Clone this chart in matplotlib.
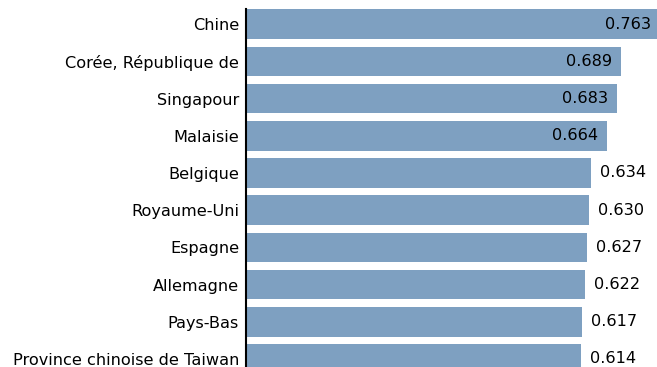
import matplotlib
matplotlib.use("Agg")
import matplotlib.pyplot as plt

plt.rcParams["font.family"] = ["DejaVu Sans"]

# Index values per economy, top to bottom
countries = [
    "Chine",
    "Corée, République de",
    "Singapour",
    "Malaisie",
    "Belgique",
    "Royaume-Uni",
    "Espagne",
    "Allemagne",
    "Pays-Bas",
    "Province chinoise de Taiwan",
]
values = [0.763, 0.689, 0.683, 0.664, 0.634, 0.630, 0.627, 0.622, 0.617, 0.614]

BAR_COLOR = "#7EA0C1"
X_MIN, X_MAX = -0.0115, 0.757
INSIDE_FROM = 0.66   # labels go inside the bar above this value
FS = 11.6

fig = plt.figure(figsize=(6.57, 3.67), dpi=100)
ax = fig.add_axes([246 / 657, 0.0, 1 - 246 / 657, (367 - 9.3) / 367])

pos = list(range(len(countries)))
ax.barh(pos, [v - X_MIN for v in values], left=X_MIN, height=0.8,
        color=BAR_COLOR, edgecolor="none", clip_on=True)

ax.set_xlim(X_MIN, X_MAX)
ax.set_ylim((367 - 24.2) / 37.2, -0.4)

for y, v in zip(pos, values):
    if v >= INSIDE_FROM:
        ax.annotate(f"{v:.3f}", (v, y), xytext=(-9, 0), textcoords="offset pixels",
                    ha="right", va="center", fontsize=FS, color="black",
                    annotation_clip=False)
    else:
        ax.annotate(f"{v:.3f}", (v, y), xytext=(9, 0), textcoords="offset pixels",
                    ha="left", va="center", fontsize=FS, color="black",
                    annotation_clip=False)

ax.set_yticks(pos)
ax.set_yticklabels(countries, fontsize=FS)
ax.tick_params(axis="y", length=0, pad=5)
ax.set_xticks([])

for side in ["top", "right", "bottom"]:
    ax.spines[side].set_visible(False)
ax.spines["left"].set_linewidth(1.5)
ax.spines["left"].set_color("black")

fig.savefig("out.png", dpi=100)
